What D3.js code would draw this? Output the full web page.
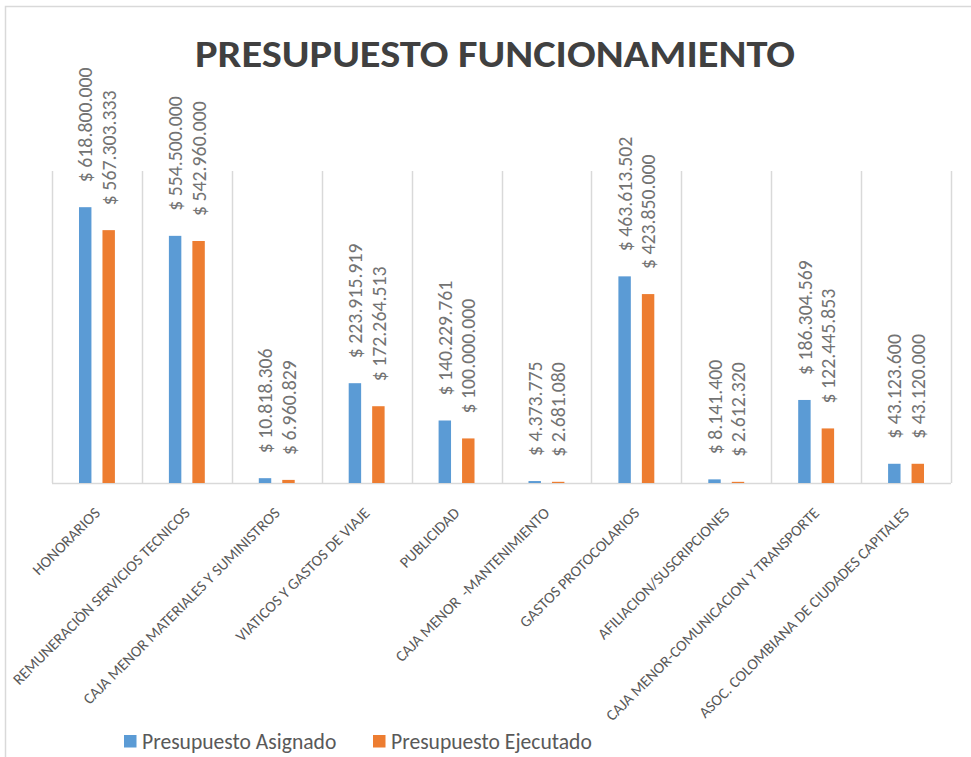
<!DOCTYPE html>
<html lang="es">
  <head>
    <meta charset="utf-8" />
    <title>Presupuesto Funcionamiento</title>
    <script src="https://cdn.jsdelivr.net/npm/d3@7/dist/d3.min.js"></script>
    <style>
      body { margin: 0; background: #fff; }
      text { font-family: Carlito, Calibri, "Open Sans", sans-serif; }
    </style>
  </head>
  <body>
    <svg id="chart" width="971" height="757"></svg>
    <script>
      // categorias y series
      const categorias = [
        "HONORARIOS",
        "REMUNERACIÒN SERVICIOS TECNICOS",
        "CAJA MENOR MATERIALES Y SUMINISTROS",
        "VIATICOS Y GASTOS DE VIAJE",
        "PUBLICIDAD",
        "CAJA MENOR  -MANTENIMIENTO",
        "GASTOS PROTOCOLARIOS",
        "AFILIACION/SUSCRIPCIONES",
        "CAJA MENOR-COMUNICACION Y TRANSPORTE",
        "ASOC. COLOMBIANA DE CIUDADES CAPITALES"
      ];
      const series = ["Presupuesto Asignado", "Presupuesto Ejecutado"];
      const asignado = [618800000, 554500000, 10818306, 223915919, 140229761, 4373775, 463613502, 8141400, 186304569, 43123600];
      const ejecutado = [567303333, 542960000, 6960829, 172264513, 100000000, 2681080, 423850000, 2612320, 122445853, 43120000];
      const yMax = 700000000;

      const colores = ["#5b9bd5", "#ed7d31"];

      const locale = d3.formatLocale({ decimal: ",", thousands: ".", grouping: [3], currency: ["$ ", ""] });
      const moneda = locale.format("$,.0f");

      const data = categorias.map((c, i) => ({ cat: c, vals: [asignado[i], ejecutado[i]] }));

      const svg = d3.select("#chart");
      const width = +svg.attr("width");
      const height = +svg.attr("height");
      const margin = { top: 171, right: 20, bottom: 274, left: 52 };

      svg.append("rect")
        .attr("width", width).attr("height", height).attr("fill", "#fff");
      // borde del area del grafico
      svg.append("rect")
        .attr("x", 5.5).attr("y", 6.5)
        .attr("width", 1000).attr("height", 1000)
        .attr("fill", "none").attr("stroke", "#d9d9d9").attr("stroke-width", 1.5);

      const x0 = d3.scaleBand()
        .domain(categorias)
        .range([margin.left, width - margin.right])
        .padding(0);

      const x1 = d3.scaleBand()
        .domain(series)
        .range([0, x0.bandwidth()])
        .paddingInner(0.47)
        .paddingOuter(1.15);

      const y = d3.scaleLinear()
        .domain([0, yMax])
        .range([height - margin.bottom, margin.top]);

      // lineas verticales entre categorias
      const bordes = categorias.map(c => x0(c)).concat([x0.range()[1]]);
      svg.append("g")
        .selectAll("line")
        .data(bordes)
        .join("line")
          .attr("x1", d => Math.round(d) + 0.5)
          .attr("x2", d => Math.round(d) + 0.5)
          .attr("y1", y(yMax))
          .attr("y2", y(0))
          .attr("stroke", "#d9d9d9")
          .attr("stroke-width", 1.5);

      svg.append("line")
        .attr("x1", x0.range()[0]).attr("x2", x0.range()[1])
        .attr("y1", y(0) + 0.5).attr("y2", y(0) + 0.5)
        .attr("stroke", "#d9d9d9").attr("stroke-width", 1.5);

      const grupos = svg.append("g")
        .selectAll("g")
        .data(data)
        .join("g")
          .attr("transform", d => `translate(${x0(d.cat)},0)`);

      grupos.selectAll("rect")
        .data(d => d.vals.map((v, j) => ({ serie: series[j], v: v, j: j })))
        .join("rect")
          .attr("x", d => x1(d.serie))
          .attr("y", d => y(d.v))
          .attr("width", x1.bandwidth())
          .attr("height", d => y(0) - y(d.v))
          .attr("fill", d => colores[d.j]);

      // etiquetas de valor, rotadas
      grupos.selectAll("text")
        .data(d => d.vals.map((v, j) => ({ serie: series[j], v: v })))
        .join("text")
          .attr("transform", d => `translate(${x1(d.serie) + x1.bandwidth() / 2},${y(d.v) - 25}) rotate(-90)`)
          .attr("dy", "0.36em")
          .attr("text-anchor", "start")
          .attr("font-size", "19.8px")
          .attr("fill", "#737373")
          .text(d => moneda(d.v));

      // etiquetas de categorias
      svg.append("g")
        .selectAll("text")
        .data(categorias)
        .join("text")
          .attr("transform", d => `translate(${x0(d) + x0.bandwidth() / 2 + 4},${y(0) + 31}) rotate(-45)`)
          .attr("text-anchor", "end")
          .attr("font-size", "15.6px")
          .attr("fill", "#595959")
          .style("white-space", "pre")
          .text(d => d);

      // titulo
      svg.append("text")
        .attr("x", 195)
        .attr("y", 67)
        .attr("textLength", 600)
        .attr("lengthAdjust", "spacingAndGlyphs")
        .attr("font-size", "38px")
        .attr("font-weight", "bold")
        .attr("fill", "#404040")
        .text("PRESUPUESTO FUNCIONAMIENTO");

      // leyenda
      const leyX = [124, 373];
      const leyenda = svg.append("g")
        .selectAll("g")
        .data(series)
        .join("g")
          .attr("transform", (d, i) => `translate(${leyX[i]},735)`);
      leyenda.append("rect")
        .attr("width", 12.5).attr("height", 12.5)
        .attr("fill", (d, i) => colores[i]);
      leyenda.append("text")
        .attr("x", 18)
        .attr("y", 14)
        .attr("font-size", "21.6px")
        .attr("fill", "#595959")
        .text(d => d);
    </script>
  </body>
</html>
